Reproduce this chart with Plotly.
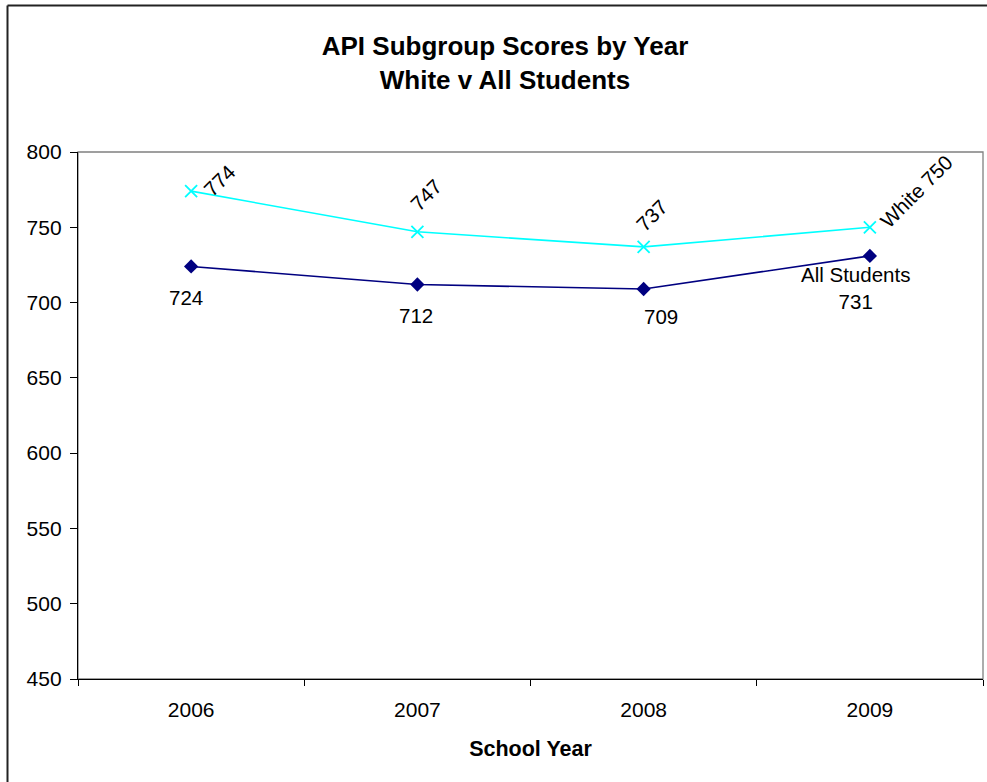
import plotly.graph_objects as go

# API scores by school year
years = ["2006", "2007", "2008", "2009"]
white_scores = [774, 747, 737, 750]
all_scores = [724, 712, 709, 731]

# pixel offsets (x, y-up) of each data label from its point
white_label_shift = [(28, 11), (9, 37), (8, 31), (46, 36)]
all_label_shift = [(-5, -31), (-1, -31), (17, -27), (-14, -32)]

FONT = "Liberation Sans, Arial, sans-serif"

fig = go.Figure()

fig.add_trace(go.Scatter(
    x=years, y=white_scores, name="White", mode="lines+markers",
    line=dict(color="#00FFFF", width=1.6),
    marker=dict(symbol="x-thin", size=12, line=dict(color="#00FFFF", width=1.8)),
))
fig.add_trace(go.Scatter(
    x=years, y=all_scores, name="All Students", mode="lines+markers",
    line=dict(color="#000080", width=1.6),
    marker=dict(symbol="diamond", size=11, color="#000080"),
))

# data labels; x given as category index so year strings aren't read as numbers
annotations = []
for i, v in enumerate(white_scores):
    txt = f"White {v}" if i == len(years) - 1 else f"{v}"
    dx, dy = white_label_shift[i]
    annotations.append(dict(
        x=i, y=v, xref="x", yref="y", text=txt, showarrow=False, textangle=-45,
        xanchor="center", yanchor="middle", xshift=dx, yshift=dy,
        font=dict(family=FONT, size=20.5, color="black"),
    ))
for i, v in enumerate(all_scores):
    txt = f"All Students<br>{v}" if i == len(years) - 1 else f"{v}"
    dx, dy = all_label_shift[i]
    annotations.append(dict(
        x=i, y=v, xref="x", yref="y", text=txt, showarrow=False,
        xanchor="center", yanchor="middle", xshift=dx, yshift=dy,
        font=dict(family=FONT, size=20.5, color="black"),
    ))

W, H = 987, 782
ML, MR, MT, MB = 78, 4, 152, 103
pw, ph = W - ML - MR, H - MT - MB


def px_x(p):
    return (p - ML) / pw


def px_y(p):
    return (H - MB - p) / ph


shapes = [
    # plot area frame
    dict(type="rect", xref="paper", yref="paper", x0=0, y0=0, x1=1, y1=1,
         line=dict(color="#808080", width=1.3), layer="below"),
    # chart area border (top and left edges)
    dict(type="line", xref="paper", yref="paper", x0=px_x(7.5), x1=px_x(1010),
         y0=px_y(5.5), y1=px_y(5.5), line=dict(color="#222222", width=2)),
    dict(type="line", xref="paper", yref="paper", x0=px_x(7.5), x1=px_x(7.5),
         y0=px_y(5.5), y1=px_y(800), line=dict(color="#222222", width=2)),
]

fig.update_layout(
    width=W, height=H,
    margin=dict(l=ML, r=MR, t=MT, b=MB),
    paper_bgcolor="white", plot_bgcolor="white",
    showlegend=False,
    font=dict(family=FONT, color="black"),
    title=dict(
        text="<b>API Subgroup Scores by Year<br>White v All Students</b>",
        x=505 / W, xanchor="center", y=1 - 55 / H, yanchor="middle",
        font=dict(family=FONT, size=26, color="black"),
    ),
    xaxis=dict(
        type="category", range=[-0.5, 3.5], tickson="boundaries",
        showline=True, linecolor="black", linewidth=1.3,
        ticks="outside", ticklen=6, tickcolor="black", tickwidth=1.2,
        ticklabelstandoff=12,
        showgrid=False, zeroline=False,
        tickfont=dict(family=FONT, size=21, color="black"),
        title=dict(text="<b>School Year</b>", standoff=20,
                   font=dict(family=FONT, size=21.5, color="black")),
    ),
    yaxis=dict(
        range=[450, 800], dtick=50, tick0=450,
        showline=True, linecolor="black", linewidth=1.3,
        ticks="outside", ticklen=7, tickcolor="black", tickwidth=1.2,
        ticklabelstandoff=4,
        showgrid=False, zeroline=False,
        tickfont=dict(family=FONT, size=21, color="black"),
    ),
    annotations=annotations,
    shapes=shapes,
)

fig.write_html("out.html")
